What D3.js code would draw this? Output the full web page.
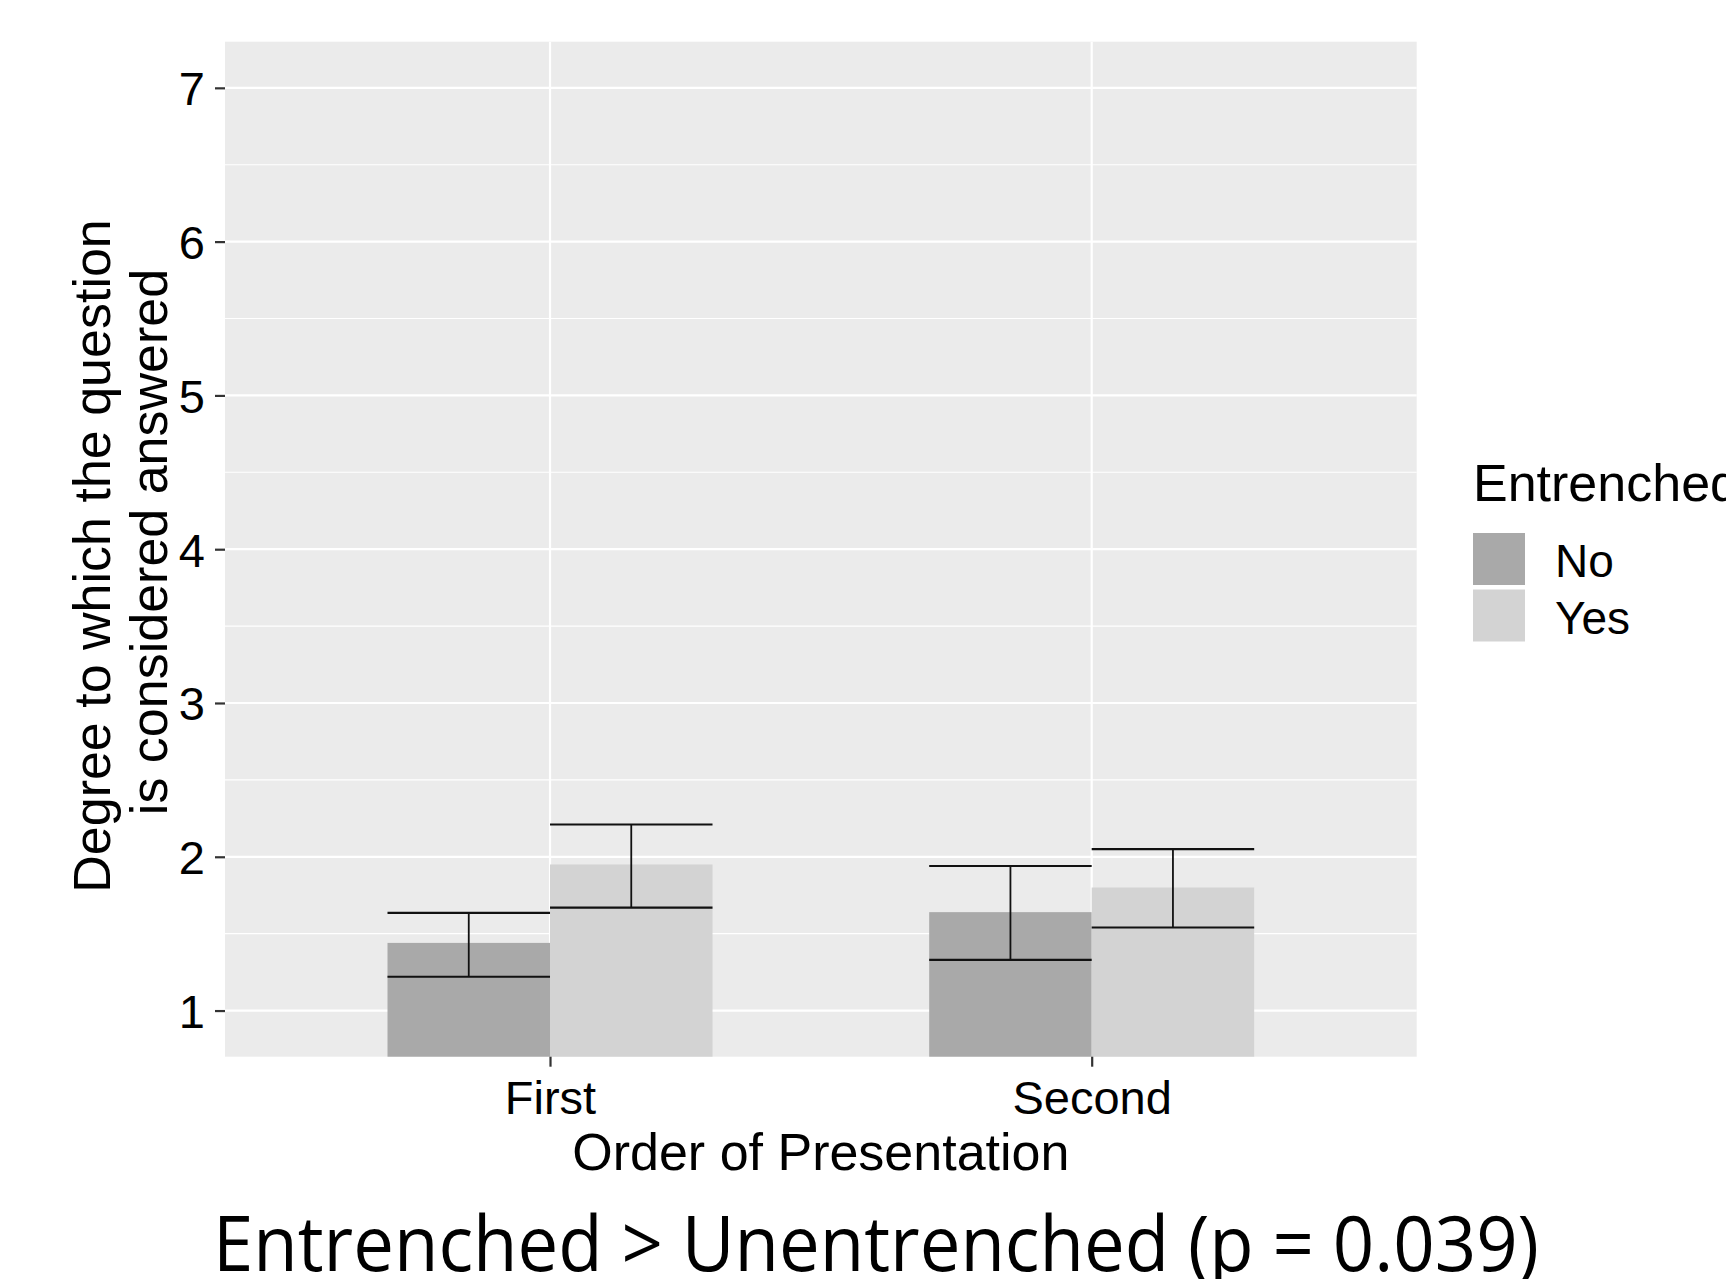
<!DOCTYPE html>
<html>
<head>
  <title>Order of Presentation - bar chart</title>
  <style>
    body {
      margin: 0;
      padding: 0;
      background: white;
    }
    svg text {
      font-family: "Liberation Sans", Arial, sans-serif;
    }
    .tick text {
      fill: #000;
    }
    .caption {
      font-family: "Open Sans", "Noto Sans", sans-serif;
    }
  </style>
</head>
<body>
  <div id="chart"></div>
  <script src="https://d3js.org/d3.v7.min.js"></script>
  <script>
    // values
    const categories = ["First", "Second"];
    const groups = ["No", "Yes"];
    const meanNo = [1.44, 1.64];
    const meanYes = [1.95, 1.80];
    const lowerNo = [1.22, 1.33];
    const upperNo = [1.635, 1.94];
    const lowerYes = [1.67, 1.54];
    const upperYes = [2.21, 2.05];
    const yTicks = [1, 2, 3, 4, 5, 6, 7];
    const yMinorTicks = [1.5, 2.5, 3.5, 4.5, 5.5, 6.5];

    const colors = { No: "#a9a9a9", Yes: "#d3d3d3" };

    // build a table for the marks
    const rows = [];
    categories.forEach((c, i) => {
      rows.push({ cat: c, group: "No", mean: meanNo[i], lo: lowerNo[i], hi: upperNo[i] });
      rows.push({ cat: c, group: "Yes", mean: meanYes[i], lo: lowerYes[i], hi: upperYes[i] });
    });

    const W = 1726, H = 1279;
    const panel = { left: 225, right: 1416.7, top: 41.7, bottom: 1056.7 };

    const svg = d3.select("#chart")
      .append("svg")
      .attr("width", W)
      .attr("height", H);

    // scales (ggplot style expansion)
    const x = d3.scalePoint().domain(categories).range([panel.left, panel.right]).padding(0.6);
    const dodge = d3.scaleBand().domain(groups).range([-0.3 * x.step(), 0.3 * x.step()]);
    const y = d3.scaleLinear().domain([0.7, 7.3]).range([panel.bottom, panel.top]);

    // panel background
    svg.append("rect")
      .attr("x", panel.left)
      .attr("y", panel.top)
      .attr("width", panel.right - panel.left)
      .attr("height", panel.bottom - panel.top)
      .attr("fill", "#ebebeb");

    // gridlines
    const grid = svg.append("g");
    grid.selectAll(".minor")
      .data(yMinorTicks)
      .enter()
      .append("line")
      .attr("x1", panel.left).attr("x2", panel.right)
      .attr("y1", d => y(d)).attr("y2", d => y(d))
      .attr("stroke", "white").attr("stroke-width", 1.1);
    grid.selectAll(".major")
      .data(yTicks)
      .enter()
      .append("line")
      .attr("x1", panel.left).attr("x2", panel.right)
      .attr("y1", d => y(d)).attr("y2", d => y(d))
      .attr("stroke", "white").attr("stroke-width", 2.2);
    grid.selectAll(".vmajor")
      .data(categories)
      .enter()
      .append("line")
      .attr("x1", d => x(d)).attr("x2", d => x(d))
      .attr("y1", panel.top).attr("y2", panel.bottom)
      .attr("stroke", "white").attr("stroke-width", 2.2);

    // bars
    svg.selectAll(".bar")
      .data(rows)
      .enter()
      .append("rect")
      .attr("class", "bar")
      .attr("x", d => x(d.cat) + dodge(d.group))
      .attr("width", dodge.bandwidth())
      .attr("y", d => y(d.mean))
      .attr("height", d => y(0.7) - y(d.mean))
      .attr("fill", d => colors[d.group]);

    // error bars
    const err = svg.selectAll(".err")
      .data(rows)
      .enter()
      .append("g")
      .attr("stroke", "#111")
      .attr("stroke-width", 2.2);
    err.append("line")
      .attr("x1", d => x(d.cat) + dodge(d.group))
      .attr("x2", d => x(d.cat) + dodge(d.group) + dodge.bandwidth())
      .attr("y1", d => y(d.hi)).attr("y2", d => y(d.hi));
    err.append("line")
      .attr("x1", d => x(d.cat) + dodge(d.group))
      .attr("x2", d => x(d.cat) + dodge(d.group) + dodge.bandwidth())
      .attr("y1", d => y(d.lo)).attr("y2", d => y(d.lo));
    err.append("line")
      .attr("x1", d => x(d.cat) + dodge(d.group) + dodge.bandwidth() / 2)
      .attr("x2", d => x(d.cat) + dodge(d.group) + dodge.bandwidth() / 2)
      .attr("y1", d => y(d.hi)).attr("y2", d => y(d.lo))
      .attr("stroke-width", 1.8);

    // y axis
    const yAxis = svg.append("g")
      .attr("transform", `translate(${panel.left},0)`)
      .call(d3.axisLeft(y).tickValues(yTicks).tickSize(10).tickPadding(10).tickFormat(d3.format("d")));
    yAxis.select(".domain").remove();
    yAxis.selectAll(".tick line").attr("stroke", "#333").attr("stroke-width", 2.2);
    yAxis.selectAll(".tick text").attr("font-size", 47).attr("dy", "0.36em");

    // x axis
    const xAxis = svg.append("g")
      .attr("transform", `translate(0,${panel.bottom})`)
      .call(d3.axisBottom(x).tickSize(10).tickPadding(14));
    xAxis.select(".domain").remove();
    xAxis.selectAll(".tick line").attr("stroke", "#333").attr("stroke-width", 2.2);
    xAxis.selectAll(".tick text").attr("font-size", 47).attr("dy", "0.71em");

    // axis titles
    svg.append("text")
      .attr("x", (panel.left + panel.right) / 2)
      .attr("y", 1170)
      .attr("text-anchor", "middle")
      .attr("font-size", 52)
      .attr("fill", "black")
      .text("Order of Presentation");

    svg.append("text")
      .attr("transform", "translate(110,556) rotate(-90)")
      .attr("text-anchor", "middle")
      .attr("font-size", 52)
      .attr("fill", "black")
      .text("Degree to which the question");
    svg.append("text")
      .attr("transform", "translate(167,542) rotate(-90)")
      .attr("text-anchor", "middle")
      .attr("font-size", 52)
      .attr("fill", "black")
      .text("is considered answered");

    // legend
    svg.append("text")
      .attr("x", 1473)
      .attr("y", 501)
      .attr("font-size", 52)
      .attr("fill", "black")
      .text("Entrenched");

    const legend = svg.selectAll(".legend")
      .data(groups)
      .enter()
      .append("g")
      .attr("class", "legend")
      .attr("transform", (d, i) => `translate(1473,${533 + i * 56.5})`);
    legend.append("rect")
      .attr("width", 52)
      .attr("height", 52)
      .attr("fill", d => colors[d]);
    legend.append("text")
      .attr("x", 82)
      .attr("y", 44)
      .attr("font-size", 46)
      .attr("fill", "black")
      .text(d => d);

    // caption under the chart
    svg.append("text")
      .attr("class", "caption")
      .attr("x", 876)
      .attr("y", 1271)
      .attr("text-anchor", "middle")
      .attr("font-size", 76)
      .attr("fill", "black")
      .attr("textLength", 1326)
      .attr("lengthAdjust", "spacingAndGlyphs")
      .text("Entrenched > Unentrenched (p = 0.039)");
  </script>
</body>
</html>
